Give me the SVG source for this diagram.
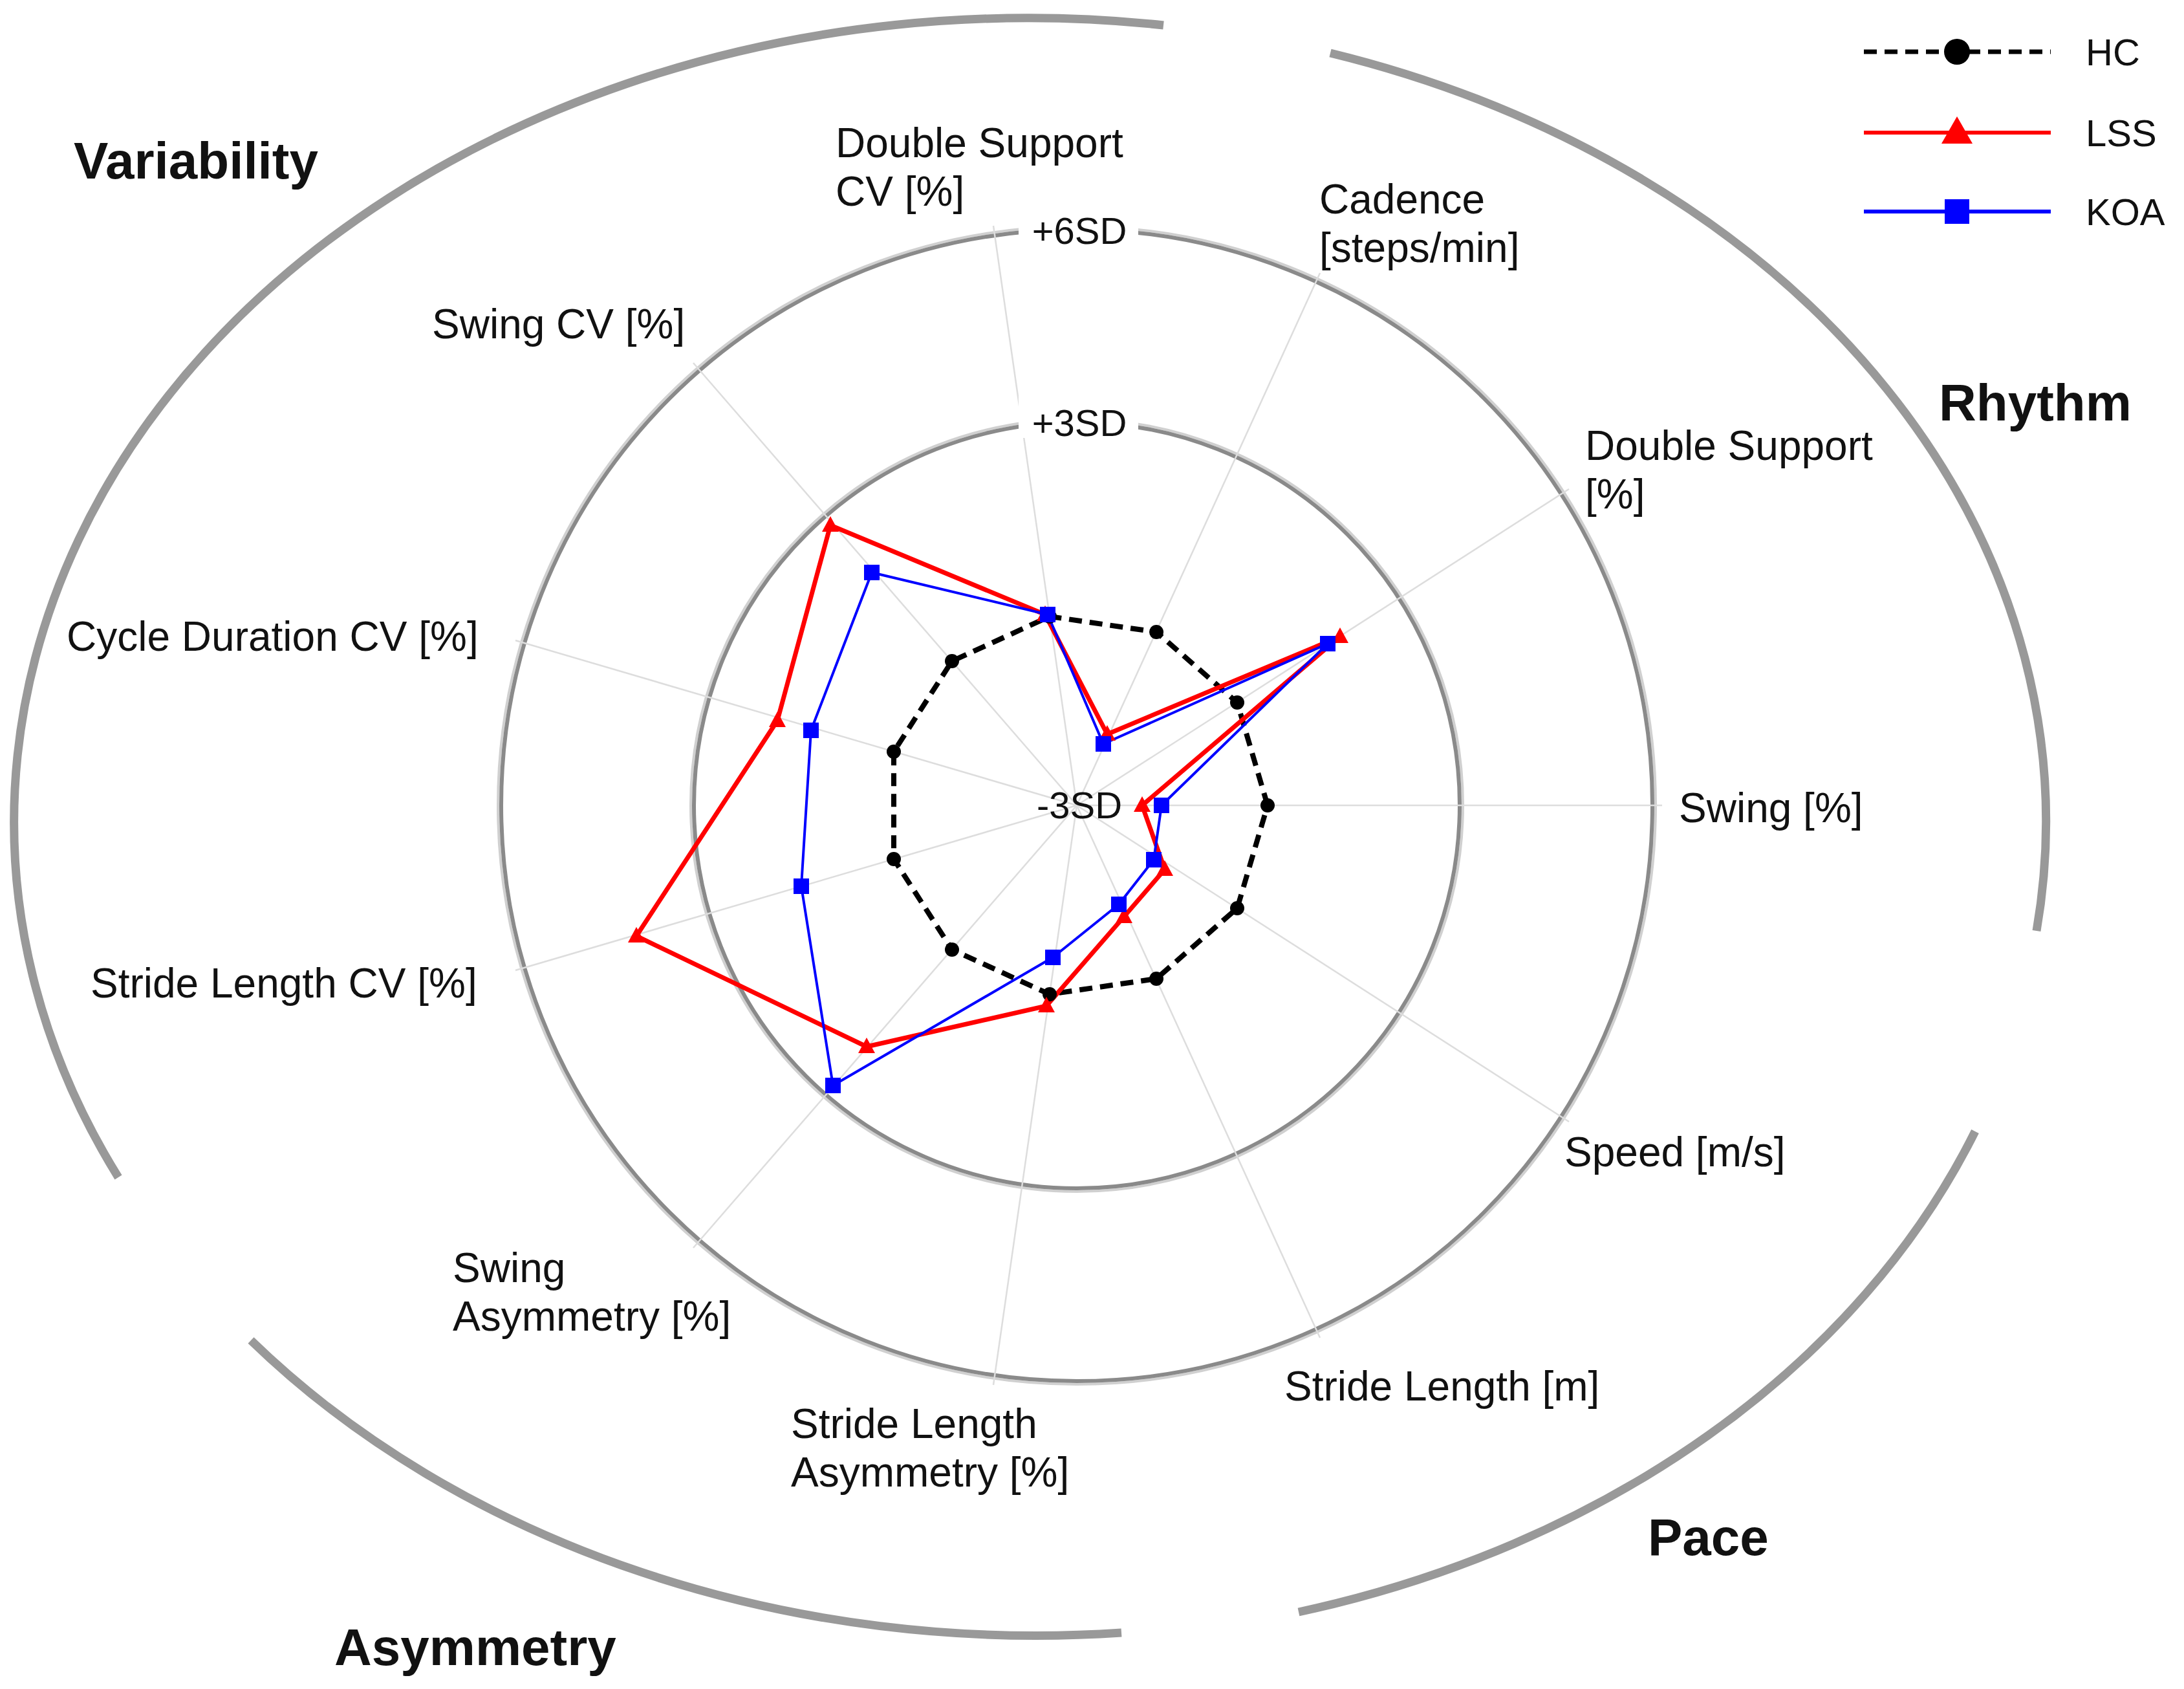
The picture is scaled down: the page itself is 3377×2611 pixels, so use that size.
<svg xmlns="http://www.w3.org/2000/svg" width="3377" height="2611" viewBox="0 0 3377 2611">
<style>
text{font-family:"Liberation Sans",Arial,sans-serif;fill:#111}
.ax{font-size:64px}
.cat{font-size:80px;font-weight:bold}
.sd{font-size:58px}
.leg{font-size:58px}
.arc{fill:none;stroke:#999;stroke-width:13}
.ring{fill:none;stroke:#8a8a8a;stroke-width:6}
.ring2{fill:none;stroke:#d0d0d0;stroke-width:4}
.axis{stroke:#ddd;stroke-width:2.5}
.hc{fill:none;stroke:#000;stroke-width:8;stroke-dasharray:20 12}
.lss{fill:none;stroke:#f00;stroke-width:7;stroke-linejoin:round}
.koa{fill:none;stroke:#00f;stroke-width:4;stroke-linejoin:round}
</style>
<defs>
<circle id="mc" r="11" fill="#000"/>
<path id="mt" d="M0,-14 L13,10 L-13,10Z" fill="#f00"/>
<rect id="ms" x="-12" y="-12" width="24" height="24" fill="#00f"/>
</defs>
<rect width="3377" height="2611" fill="#fff"/>
<g id="category-arcs">
<path class="arc" d="M1799,39 A1568,1243 0 0 0 183,1820"/>
<path class="arc" d="M2057,82 A1568,1243 0 0 1 3149,1439"/>
<path class="arc" d="M3054,1749 A1568,1243 0 0 1 2008,2492"/>
<path class="arc" d="M388,2072 A1568,1243 0 0 0 1734,2524"/>
</g>
<g id="grid">
<circle class="ring2" cx="1665" cy="1245" r="597"/>
<circle class="ring2" cx="1665" cy="1245" r="895"/>
<circle class="ring" cx="1665" cy="1245" r="592"/>
<circle class="ring" cx="1665" cy="1245" r="890"/>
<g class="axis">
<line x1="1665" y1="1245" x2="2570" y2="1245"/>
<line x1="1665" y1="1245" x2="2426" y2="756"/>
<line x1="1665" y1="1245" x2="2041" y2="422"/>
<line x1="1665" y1="1245" x2="1536" y2="349"/>
<line x1="1665" y1="1245" x2="1072" y2="561"/>
<line x1="1665" y1="1245" x2="797" y2="990"/>
<line x1="1665" y1="1245" x2="797" y2="1500"/>
<line x1="1665" y1="1245" x2="1072" y2="1929"/>
<line x1="1665" y1="1245" x2="1536" y2="2141"/>
<line x1="1665" y1="1245" x2="2041" y2="2068"/>
<line x1="1665" y1="1245" x2="2426" y2="1734"/>
</g>
<rect x="1575" y="305" width="185" height="70" fill="#fff"/>
<rect x="1575" y="607" width="185" height="70" fill="#fff"/>
<text class="sd" x="1669" y="377" text-anchor="middle">+6SD</text>
<text class="sd" x="1669" y="674" text-anchor="middle">+3SD</text>
<text class="sd" x="1669" y="1265" text-anchor="middle">-3SD</text>
</g>
<g id="connectors">
<polygon class="hc" points="1960,1245 1913,1086 1788,977 1623,953 1472,1022 1382,1162 1382,1328 1472,1468 1623,1537 1788,1513 1913,1404"/>
<polygon class="lss" points="1766,1245 2072,984 1712,1135 1616,950 1284,812 1202,1114 984,1447 1340,1618 1618,1555 1738,1417 1801,1344"/>
<polygon class="koa" points="1796,1245 2053,995 1706,1150 1620,950 1348,885 1254,1129 1239,1370 1288,1678 1628,1480 1730,1398 1784,1329"/>
</g>
<g id="hc-markers">
<use href="#mc" x="1960" y="1245"/><use href="#mc" x="1913" y="1086"/><use href="#mc" x="1788" y="977"/><use href="#mc" x="1623" y="953"/><use href="#mc" x="1472" y="1022"/><use href="#mc" x="1382" y="1162"/><use href="#mc" x="1382" y="1328"/><use href="#mc" x="1472" y="1468"/><use href="#mc" x="1623" y="1537"/><use href="#mc" x="1788" y="1513"/><use href="#mc" x="1913" y="1404"/>
</g>
<g id="lss-markers">
<use href="#mt" x="1766" y="1245"/><use href="#mt" x="2072" y="984"/><use href="#mt" x="1712" y="1135"/><use href="#mt" x="1616" y="950"/><use href="#mt" x="1284" y="812"/><use href="#mt" x="1202" y="1114"/><use href="#mt" x="984" y="1447"/><use href="#mt" x="1340" y="1618"/><use href="#mt" x="1618" y="1555"/><use href="#mt" x="1738" y="1417"/><use href="#mt" x="1801" y="1344"/>
</g>
<g id="koa-markers">
<use href="#ms" x="1796" y="1245"/><use href="#ms" x="2053" y="995"/><use href="#ms" x="1706" y="1150"/><use href="#ms" x="1620" y="950"/><use href="#ms" x="1348" y="885"/><use href="#ms" x="1254" y="1129"/><use href="#ms" x="1239" y="1370"/><use href="#ms" x="1288" y="1678"/><use href="#ms" x="1628" y="1480"/><use href="#ms" x="1730" y="1398"/><use href="#ms" x="1784" y="1329"/>
</g>
<g id="axis-labels" class="ax">
<text class="ax" x="1292" y="243">Double Support</text><text class="ax" x="1292" y="318">CV [%]</text>
<text class="ax" x="2040" y="330">Cadence</text><text class="ax" x="2040" y="405">[steps/min]</text>
<text class="ax" x="2451" y="711">Double Support</text><text class="ax" x="2451" y="786">[%]</text>
<text class="ax" x="2596" y="1271">Swing [%]</text>
<text class="ax" x="2419" y="1803">Speed [m/s]</text>
<text class="ax" x="1986" y="2165">Stride Length [m]</text>
<text class="ax" x="1223" y="2223">Stride Length</text><text class="ax" x="1223" y="2298">Asymmetry [%]</text>
<text class="ax" x="700" y="1982">Swing</text><text class="ax" x="700" y="2057">Asymmetry [%]</text>
<text class="ax" x="140" y="1542">Stride Length CV [%]</text>
<text class="ax" x="103" y="1006">Cycle Duration CV [%]</text>
<text class="ax" x="668" y="523">Swing CV [%]</text>
</g>
<g id="category-labels">
<text class="cat" x="114" y="276">Variability</text>
<text class="cat" x="2998" y="650">Rhythm</text>
<text class="cat" x="2548" y="2404">Pace</text>
<text class="cat" x="517" y="2574">Asymmetry</text>
</g>
<g id="legend">
<line x1="2882" y1="80" x2="3171" y2="80" stroke="#000" stroke-width="7" stroke-dasharray="20 12"/>
<circle cx="3026" cy="80" r="20" fill="#000"/>
<text class="leg" x="3225" y="101">HC</text>
<line x1="2882" y1="205" x2="3171" y2="205" stroke="#f00" stroke-width="6"/>
<path d="M3026,180 L3050,222 L3002,222Z" fill="#f00"/>
<text class="leg" x="3225" y="226">LSS</text>
<line x1="2882" y1="327" x2="3171" y2="327" stroke="#00f" stroke-width="6"/>
<rect x="3007" y="308" width="38" height="38" fill="#00f"/>
<text class="leg" x="3225" y="348">KOA</text>
</g>
</svg>
